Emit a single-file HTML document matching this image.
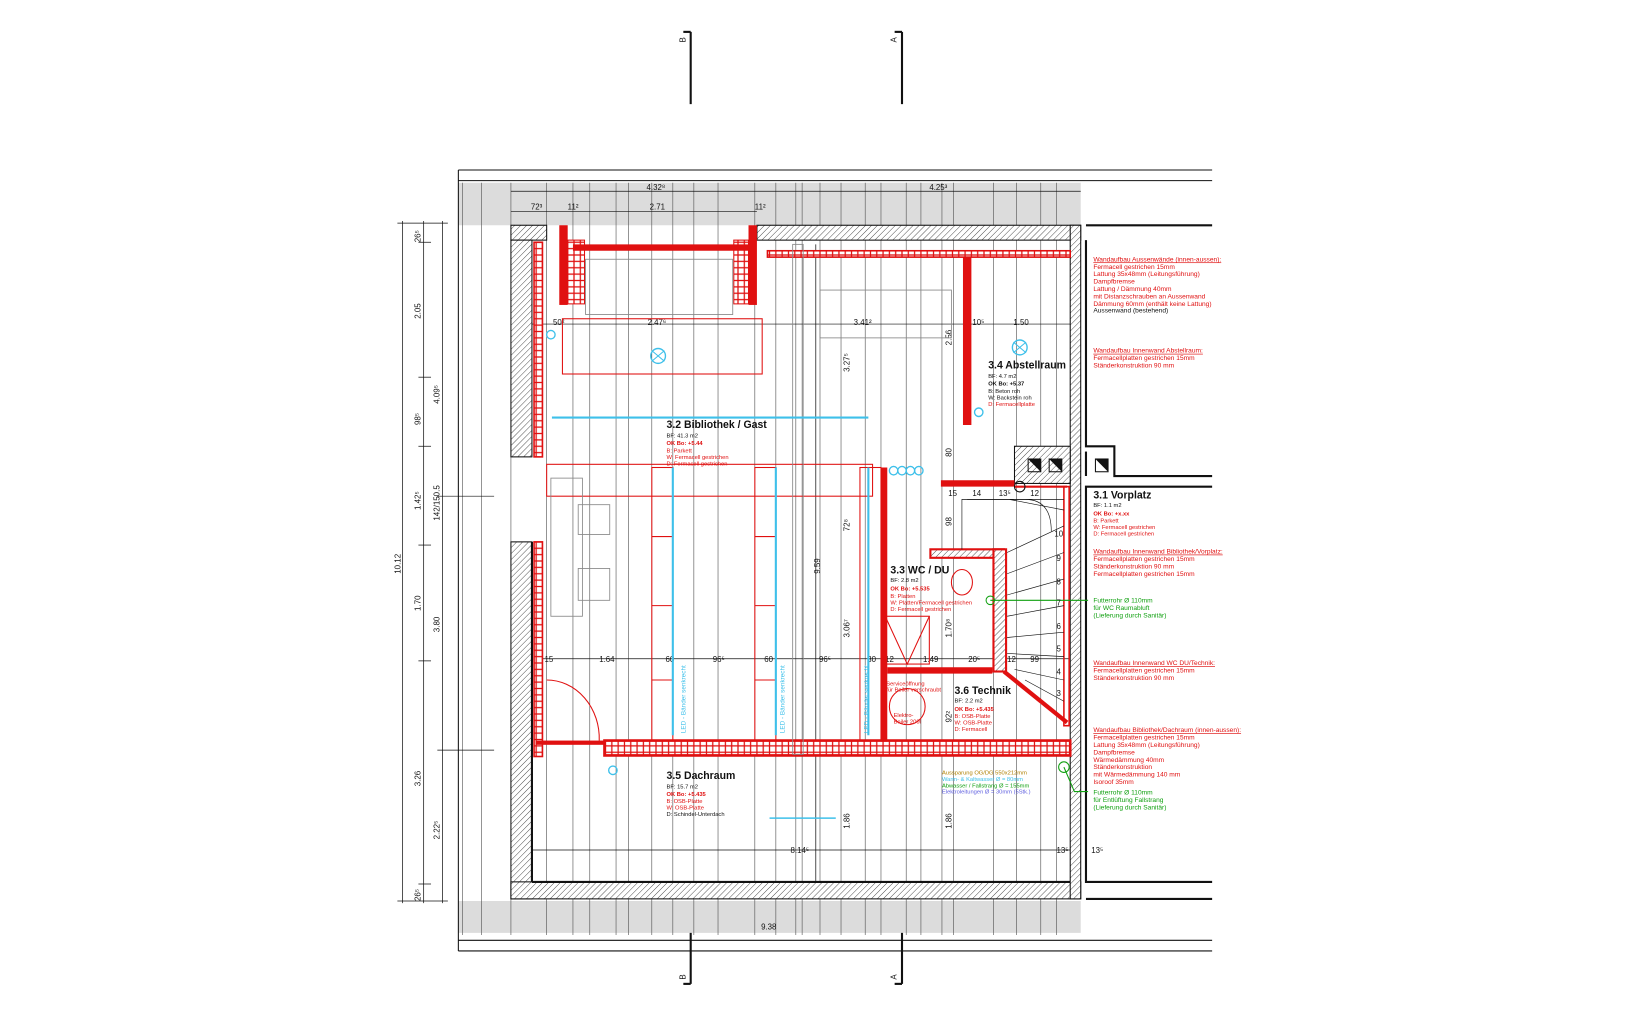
<!DOCTYPE html>
<html><head><meta charset="utf-8"><style>
html,body{margin:0;padding:0;background:#fff;width:1640px;height:1020px;overflow:hidden}
svg{display:block}
text{font-family:"Liberation Sans",sans-serif}
.d{font-size:7.5px;fill:#111}
.s{font-size:5.5px}
.r{fill:#e01010}
.g{fill:#10a010}
.t{font-size:10px;font-weight:bold;fill:#111}
</style></head><body>
<svg width="1640" height="1020" viewBox="0 0 1560 960" preserveAspectRatio="none" xmlns="http://www.w3.org/2000/svg">
<defs>
<pattern id="h" width="4" height="4" patternUnits="userSpaceOnUse" patternTransform="rotate(45)"><rect width="4" height="4" fill="#fff"/><line x1="0" y1="0" x2="0" y2="4" stroke="#333" stroke-width="0.8"/></pattern>
<pattern id="rw" width="6" height="6" patternUnits="userSpaceOnUse"><rect width="6" height="6" fill="#fff"/><rect x="0" y="0" width="6" height="6" fill="none" stroke="#e01010" stroke-width="1.2"/></pattern>
</defs>
<!-- section markers -->
<g stroke="#111" stroke-width="2">
<line x1="657" y1="30" x2="657" y2="98"/><line x1="858" y1="30" x2="858" y2="98"/>
<line x1="657" y1="858" x2="657" y2="926"/><line x1="858" y1="858" x2="858" y2="926"/>
<line x1="650" y1="30" x2="657" y2="30"/><line x1="851" y1="30" x2="858" y2="30"/>
<line x1="650" y1="926" x2="657" y2="926"/><line x1="851" y1="926" x2="858" y2="926"/>
</g>
<text x="652" y="40" class="d" transform="rotate(-90 652 40)">B</text>
<text x="853" y="40" class="d" transform="rotate(-90 853 40)">A</text>
<text x="652" y="922" class="d" transform="rotate(-90 652 922)">B</text>
<text x="853" y="922" class="d" transform="rotate(-90 853 922)">A</text>
<!-- top/bottom gray bands -->
<rect x="436" y="172" width="592" height="40" fill="#dcdcdc"/>
<rect x="436" y="848" width="592" height="30" fill="#dcdcdc"/>
<g stroke="#111" stroke-width="1">
<line x1="436" y1="160" x2="1153" y2="160"/><line x1="436" y1="170" x2="1153" y2="170"/>
<line x1="436" y1="885" x2="1153" y2="885"/><line x1="436" y1="895" x2="1153" y2="895"/>
<line x1="436" y1="160" x2="436" y2="895"/>
</g>
<!-- rafters -->
<g stroke="#555" stroke-width="0.6">
<line x1="440" y1="172" x2="440" y2="880"/><line x1="458" y1="172" x2="458" y2="880"/><line x1="486" y1="172" x2="486" y2="880"/>
<line x1="520" y1="172" x2="520" y2="880"/><line x1="545" y1="172" x2="545" y2="880"/><line x1="561" y1="172" x2="561" y2="880"/>
<line x1="586" y1="172" x2="586" y2="880"/><line x1="598" y1="172" x2="598" y2="880"/><line x1="620" y1="172" x2="620" y2="880"/>
<line x1="640" y1="172" x2="640" y2="880"/><line x1="660" y1="172" x2="660" y2="880"/><line x1="683" y1="172" x2="683" y2="880"/>
<line x1="718" y1="172" x2="718" y2="880"/><line x1="738" y1="172" x2="738" y2="880"/><line x1="757" y1="172" x2="757" y2="880"/>
<line x1="763" y1="172" x2="763" y2="880"/><line x1="780" y1="172" x2="780" y2="880"/><line x1="800" y1="172" x2="800" y2="880"/>
<line x1="823" y1="172" x2="823" y2="880"/><line x1="838" y1="172" x2="838" y2="880"/><line x1="862" y1="172" x2="862" y2="880"/>
<line x1="876" y1="172" x2="876" y2="880"/><line x1="896" y1="172" x2="896" y2="880"/><line x1="907" y1="172" x2="907" y2="880"/>
<line x1="945" y1="172" x2="945" y2="880"/><line x1="967" y1="172" x2="967" y2="880"/><line x1="990" y1="172" x2="990" y2="880"/>
<line x1="1005" y1="172" x2="1005" y2="880"/>
</g>
<!-- dims top -->
<g stroke="#111" stroke-width="0.7">
<line x1="486" y1="180" x2="1028" y2="180"/><line x1="486" y1="199" x2="720" y2="199"/>
<line x1="486" y1="305" x2="1018" y2="305"/><line x1="510" y1="620" x2="1018" y2="620"/>
<line x1="486" y1="800" x2="1028" y2="800"/>
<line x1="383" y1="208" x2="383" y2="850"/><line x1="403" y1="208" x2="403" y2="850"/><line x1="421" y1="208" x2="421" y2="850"/>
<line x1="378" y1="210" x2="426" y2="210"/><line x1="378" y1="848" x2="426" y2="848"/>
<line x1="398" y1="228" x2="410" y2="228"/><line x1="398" y1="355" x2="410" y2="355"/><line x1="398" y1="420" x2="410" y2="420"/>
<line x1="398" y1="513" x2="410" y2="513"/><line x1="398" y1="622" x2="410" y2="622"/><line x1="398" y1="832" x2="410" y2="832"/>
<line x1="416" y1="467" x2="470" y2="467"/><line x1="416" y1="706" x2="470" y2="706"/>
<line x1="776" y1="230" x2="776" y2="830"/>
</g>
<text x="615" y="179" class="d">4.32⁸</text><text x="884" y="179" class="d">4.25³</text>
<text x="505" y="197" class="d">72³</text><text x="540" y="197" class="d">11²</text><text x="618" y="197" class="d">2.71</text><text x="718" y="197" class="d">11²</text>
<text x="497" y="306" class="d">15</text><text x="526" y="306" class="d">50²</text><text x="616" y="306" class="d">2.47⁶</text><text x="812" y="306" class="d">3.41²</text><text x="925" y="306" class="d">10⁵</text><text x="964" y="306" class="d">1.50</text>
<text x="518" y="623" class="d">15</text><text x="570" y="623" class="d">1.64</text><text x="633" y="623" class="d">60</text><text x="678" y="623" class="d">96⁵</text><text x="727" y="623" class="d">60</text><text x="779" y="623" class="d">96⁵</text><text x="825" y="623" class="d">30</text><text x="842" y="623" class="d">12</text><text x="878" y="623" class="d">1.49</text><text x="921" y="623" class="d">20⁵</text><text x="958" y="623" class="d">12</text><text x="980" y="623" class="d">99</text>
<text x="490" y="803" class="d">30</text><text x="752" y="803" class="d">8.14⁵</text><text x="1005" y="803" class="d">13⁵</text><text x="1038" y="803" class="d">13⁵</text>
<text x="724" y="875" class="d">9.38</text>
<g class="d">
<text transform="translate(381,540) rotate(-90)">10.12</text>
<text transform="translate(400,300) rotate(-90)">2.05</text>
<text transform="translate(400,400) rotate(-90)">98⁵</text>
<text transform="translate(400,480) rotate(-90)">1.42⁵</text>
<text transform="translate(400,575) rotate(-90)">1.70</text>
<text transform="translate(400,740) rotate(-90)">3.26</text>
<text transform="translate(400,228) rotate(-90)">26⁵</text>
<text transform="translate(400,848) rotate(-90)">26⁵</text>
<text transform="translate(418,380) rotate(-90)">4.09⁵</text>
<text transform="translate(418,490) rotate(-90)">142/150.5</text>
<text transform="translate(418,595) rotate(-90)">3.80</text>
<text transform="translate(418,790) rotate(-90)">2.22⁵</text>
<text transform="translate(780,540) rotate(-90)">9.59</text>
<text transform="translate(808,350) rotate(-90)">3.27⁵</text>
<text transform="translate(808,600) rotate(-90)">3.06⁷</text>
<text transform="translate(808,780) rotate(-90)">1.86</text>
<text transform="translate(905,780) rotate(-90)">1.86</text>
<text transform="translate(905,325) rotate(-90)">2.56</text>
<text transform="translate(905,430) rotate(-90)">80</text>
<text transform="translate(905,495) rotate(-90)">98</text>
<text transform="translate(905,600) rotate(-90)">1.70⁸</text>
<text transform="translate(905,680) rotate(-90)">92²</text>
<text transform="translate(808,500) rotate(-90)">72⁸</text>
</g>
<!-- outer walls -->
<rect x="486" y="212" width="34" height="14" fill="url(#h)" stroke="#111"/>
<rect x="720" y="212" width="308" height="14" fill="url(#h)" stroke="#111"/>
<rect x="486" y="226" width="20" height="204" fill="url(#h)" stroke="#111"/>
<rect x="486" y="510" width="20" height="336" fill="url(#h)" stroke="#111"/>
<rect x="486" y="830" width="542" height="16" fill="url(#h)" stroke="#111"/>
<rect x="1018" y="212" width="10" height="634" fill="url(#h)" stroke="#111"/>
<rect x="965" y="420" width="53" height="35" fill="url(#h)" stroke="#111"/>
<g stroke="#111" stroke-width="2" fill="none">
<line x1="506" y1="830" x2="1018" y2="830"/><line x1="506" y1="510" x2="506" y2="830"/>
<polyline points="1033,212 1153,212"/><polyline points="1033,226 1033,420 1060,420 1060,448 1153,448"/>
<polyline points="1153,458 1033,458 1033,830 1153,830"/><line x1="1033" y1="846" x2="1153" y2="846"/>
<polyline points="1033,448 1033,425"/>
</g>
<g fill="#111"><polygon points="978,432 990,432 990,444"/><polygon points="998,432 1010,432 1010,444"/><polygon points="1042,432 1054,432 1054,444"/></g>
<g fill="none" stroke="#111"><rect x="978" y="432" width="12" height="12"/><rect x="998" y="432" width="12" height="12"/><rect x="1042" y="432" width="12" height="12"/></g>
<!-- red walls -->
<rect x="508" y="228" width="8" height="202" fill="url(#rw)" stroke="#e01010" stroke-width="1.5"/>
<rect x="508" y="510" width="8" height="202" fill="url(#rw)" stroke="#e01010" stroke-width="1.5"/>
<rect x="532" y="212" width="8" height="75" fill="#e01010"/>
<rect x="712" y="212" width="8" height="75" fill="#e01010"/>
<rect x="540" y="226" width="16" height="60" fill="url(#rw)" stroke="#e01010"/>
<rect x="698" y="226" width="14" height="60" fill="url(#rw)" stroke="#e01010"/>
<rect x="545" y="230" width="168" height="6" fill="#e01010"/>
<rect x="730" y="236" width="288" height="6" fill="url(#rw)" stroke="#e01010" stroke-width="1.5"/>
<rect x="916" y="242" width="8" height="158" fill="#e01010"/>
<rect x="575" y="697" width="443" height="14" fill="url(#rw)" stroke="#e01010" stroke-width="2.5"/>
<rect x="510" y="697" width="65" height="4" fill="#e01010"/>
<rect x="838" y="440" width="6" height="258" fill="#e01010"/>
<rect x="895" y="452" width="70" height="6" fill="#e01010"/>
<rect x="885" y="517" width="70" height="8" fill="url(#h)" stroke="#e01010" stroke-width="2"/>
<rect x="945" y="517" width="12" height="115" fill="url(#h)" stroke="#e01010" stroke-width="2"/>
<rect x="844" y="628" width="100" height="6" fill="#e01010"/>
<line x1="955" y1="632" x2="1015" y2="680" stroke="#e01010" stroke-width="4"/>
<rect x="1012" y="458" width="5" height="225" fill="none" stroke="#e01010" stroke-width="1.5"/>
<line x1="965" y1="458" x2="1015" y2="458" stroke="#e01010" stroke-width="2"/>
<g fill="none" stroke="#e01010" stroke-width="1">
<rect x="535" y="300" width="190" height="52"/>
<rect x="520" y="437" width="310" height="30"/>
<rect x="620" y="440" width="20" height="257"/><rect x="718" y="440" width="20" height="257"/><rect x="818" y="440" width="20" height="257"/>
<line x1="620" y1="505" x2="640" y2="505"/><line x1="620" y1="570" x2="640" y2="570"/><line x1="620" y1="640" x2="640" y2="640"/>
<line x1="718" y1="505" x2="738" y2="505"/><line x1="718" y1="570" x2="738" y2="570"/><line x1="718" y1="640" x2="738" y2="640"/>
<path d="M520,640 A50,55 0 0 1 570,697"/>
<circle cx="863" cy="665" r="17"/>
<rect x="842" y="580" width="42" height="45"/><path d="M842,580 L863,625 L884,580"/>
<ellipse cx="915" cy="548" rx="10" ry="12"/>
</g>
<!-- furniture gray -->
<g fill="none" stroke="#888" stroke-width="0.8">
<rect x="557" y="244" width="140" height="52"/>
<rect x="780" y="273" width="125" height="45"/>
<rect x="550" y="475" width="30" height="28"/><rect x="550" y="535" width="30" height="30"/>
<rect x="524" y="450" width="30" height="130"/>
<rect x="754" y="230" width="10" height="480"/>
</g>
<!-- cyan -->
<g stroke="#3ec0ea" stroke-width="2" fill="none">
<line x1="525" y1="393" x2="826" y2="393"/>
<line x1="640" y1="440" x2="640" y2="692"/><line x1="738" y1="440" x2="738" y2="692"/><line x1="826" y1="440" x2="826" y2="692"/>
<line x1="732" y1="770" x2="795" y2="770" stroke-width="1.5"/>
<circle cx="626" cy="335" r="7" stroke-width="1.3"/><circle cx="970" cy="327" r="7" stroke-width="1.3"/>
<circle cx="850" cy="443" r="4" stroke-width="1.3"/><circle cx="858" cy="443" r="4" stroke-width="1.3"/><circle cx="866" cy="443" r="4" stroke-width="1.3"/><circle cx="874" cy="443" r="4" stroke-width="1.3"/>
<circle cx="524" cy="315" r="4" stroke-width="1.3"/><circle cx="931" cy="388" r="4" stroke-width="1.3"/><circle cx="583" cy="725" r="4" stroke-width="1.3"/>
</g>
<g stroke="#3ec0ea" stroke-width="1"><line x1="620" y1="330" x2="632" y2="340"/><line x1="632" y1="330" x2="620" y2="340"/><line x1="964" y1="322" x2="976" y2="332"/><line x1="976" y1="322" x2="964" y2="332"/></g>
<g font-size="6" fill="#3ec0ea"><text transform="translate(652,690) rotate(-90)">LED - Bänder senkrecht</text><text transform="translate(746,690) rotate(-90)">LED - Bänder senkrecht</text><text transform="translate(826,690) rotate(-90)">LED - Bänder senkrecht</text></g>
<!-- green -->
<g stroke="#10a010" stroke-width="1" fill="none"><line x1="942" y1="565" x2="1035" y2="565"/><polyline points="1012,722 1022,745 1035,745"/><circle cx="942" cy="565" r="4"/><circle cx="1012" cy="722" r="5"/></g>
<!-- room labels -->
<text x="634" y="403" class="t">3.2 Bibliothek / Gast</text>
<text x="634" y="412" class="s" fill="#111">BF: 41.3 m2</text><text x="634" y="419" class="s r" font-weight="bold">OK Bo: +5.44</text><text x="634" y="426" class="s r">B: Parkett</text><text x="634" y="432" class="s r">W: Fermacell gestrichen</text><text x="634" y="438" class="s r">D: Fermacell gestrichen</text>
<text x="940" y="347" class="t">3.4 Abstellraum</text>
<text x="940" y="356" class="s" fill="#111">BF: 4.7 m2</text><text x="940" y="363" class="s" fill="#111" font-weight="bold">OK Bo: +5.37</text><text x="940" y="370" class="s" fill="#111">B: Beton roh</text><text x="940" y="376" class="s" fill="#111">W: Backstein roh</text><text x="940" y="382" class="s r">D: Fermacellplatte</text>
<text x="847" y="540" class="t">3.3 WC / DU</text>
<text x="847" y="548" class="s" fill="#111">BF: 2.8 m2</text><text x="847" y="556" class="s r" font-weight="bold">OK Bo: +5.535</text><text x="847" y="563" class="s r">B: Platten</text><text x="847" y="569" class="s r">W: Platten/Fermacell gestrichen</text><text x="847" y="575" class="s r">D: Fermacell gestrichen</text>
<text x="908" y="653" class="t">3.6 Technik</text>
<text x="908" y="661" class="s" fill="#111">BF: 2.2 m2</text><text x="908" y="669" class="s r" font-weight="bold">OK Bo: +5.435</text><text x="908" y="676" class="s r">B: OSB-Platte</text><text x="908" y="682" class="s r">W: OSB-Platte</text><text x="908" y="688" class="s r">D: Fermacell</text>
<text x="634" y="733" class="t">3.5 Dachraum</text>
<text x="634" y="742" class="s" fill="#111">BF: 15.7 m2</text><text x="634" y="749" class="s r" font-weight="bold">OK Bo: +5.435</text><text x="634" y="756" class="s r">B: OSB-Platte</text><text x="634" y="762" class="s r">W: OSB-Platte</text><text x="634" y="768" class="s" fill="#111">D: Schindel-Unterdach</text>
<text x="843" y="645" class="s r">Serviceöffnung</text><text x="843" y="651" class="s r">für Boiler verschraubt</text>
<text x="850" y="675" class="s r">Elektro-</text><text x="850" y="681" class="s r">Boiler 200l</text>
<text x="896" y="729" class="s" fill="#b08000">Aussparung OG/DG 550x212mm</text><text x="896" y="735" class="s" fill="#3ec0ea">Warm- &amp; Kaltwasser Ø = 80mm</text><text x="896" y="741" class="s g">Abwasser / Fallstrang Ø = 155mm</text><text x="896" y="747" class="s" fill="#6060e0">Elektroleitungen Ø = 30mm (5Stk.)</text>
<!-- stair -->
<g stroke="#111" stroke-width="0.6" fill="none">
<path d="M958,520 L1012,495 M958,540 L1012,520 M958,560 L1012,545 M958,580 L1012,570 M958,600 L1012,595 M958,615 L1012,618 M965,630 L1012,640 M975,640 L1012,660 M920,470 L1012,470 M960,470 L1012,480"/>
<path d="M915,517 L915,470 L975,470 Q1000,470 1000,500"/>
</g>
<g class="d" font-size="6.5"><text x="1003" y="505">10</text><text x="1005" y="528">9</text><text x="1005" y="550">8</text><text x="1005" y="570">7</text><text x="1005" y="592">6</text><text x="1005" y="613">5</text><text x="1005" y="635">4</text><text x="1005" y="655">3</text>
<text x="902" y="467">15</text><text x="925" y="467">14</text><text x="950" y="467">13⁵</text><text x="980" y="467">12</text></g>
<circle cx="970" cy="458" r="5" fill="none" stroke="#111"/>
<!-- right panel -->
<g font-size="6.3">
<text x="1040" y="246" class="r" text-decoration="underline">Wandaufbau Aussenwände (innen-aussen):</text>
<text x="1040" y="253" class="r">Fermacell gestrichen 15mm</text><text x="1040" y="260" class="r">Lattung 35x48mm (Leitungsführung)</text><text x="1040" y="267" class="r">Dampfbremse</text><text x="1040" y="274" class="r">Lattung / Dämmung 40mm</text><text x="1040" y="281" class="r"> mit Distanzschrauben an Aussenwand</text><text x="1040" y="288" class="r">Dämmung 60mm (enthält keine Lattung)</text><text x="1040" y="294" fill="#111">Aussenwand (bestehend)</text>
<text x="1040" y="332" class="r" text-decoration="underline">Wandaufbau Innenwand Abstellraum:</text><text x="1040" y="339" class="r">Fermacellplatten gestrichen 15mm</text><text x="1040" y="346" class="r">Ständerkonstruktion 90 mm</text>
<text x="1040" y="521" class="r" text-decoration="underline">Wandaufbau Innenwand Bibliothek/Vorplatz:</text><text x="1040" y="528" class="r">Fermacellplatten gestrichen 15mm</text><text x="1040" y="535" class="r">Ständerkonstruktion 90 mm</text><text x="1040" y="542" class="r">Fermacellplatten gestrichen 15mm</text>
<text x="1040" y="567" class="g">Futterrohr Ø 110mm</text><text x="1040" y="574" class="g">für WC Raumabluft</text><text x="1040" y="581" class="g">(Lieferung durch Sanitär)</text>
<text x="1040" y="626" class="r" text-decoration="underline">Wandaufbau Innenwand WC DU/Technik:</text><text x="1040" y="633" class="r">Fermacellplatten gestrichen 15mm</text><text x="1040" y="640" class="r">Ständerkonstruktion 90 mm</text>
<text x="1040" y="689" class="r" text-decoration="underline">Wandaufbau Bibliothek/Dachraum (innen-aussen):</text><text x="1040" y="696" class="r">Fermacellplatten gestrichen 15mm</text><text x="1040" y="703" class="r">Lattung 35x48mm (Leitungsführung)</text><text x="1040" y="710" class="r">Dampfbremse</text><text x="1040" y="717" class="r">Wärmedämmung 40mm</text><text x="1040" y="724" class="r">Ständerkonstruktion</text><text x="1040" y="731" class="r">mit Wärmedämmung 140 mm</text><text x="1040" y="738" class="r">Isoroof 35mm</text>
<text x="1040" y="748" class="g">Futterrohr Ø 110mm</text><text x="1040" y="755" class="g">für Entlüftung Fallstrang</text><text x="1040" y="762" class="g">(Lieferung durch Sanitär)</text>
</g>
<text x="1040" y="469" class="t">3.1 Vorplatz</text>
<text x="1040" y="477" class="s" fill="#111">BF: 1.1 m2</text><text x="1040" y="485" class="s r" font-weight="bold">OK Bo: +x.xx</text><text x="1040" y="492" class="s r">B: Parkett</text><text x="1040" y="498" class="s r">W: Fermacell gestrichen</text><text x="1040" y="504" class="s r">D: Fermacell gestrichen</text>
</svg>
</body></html>
